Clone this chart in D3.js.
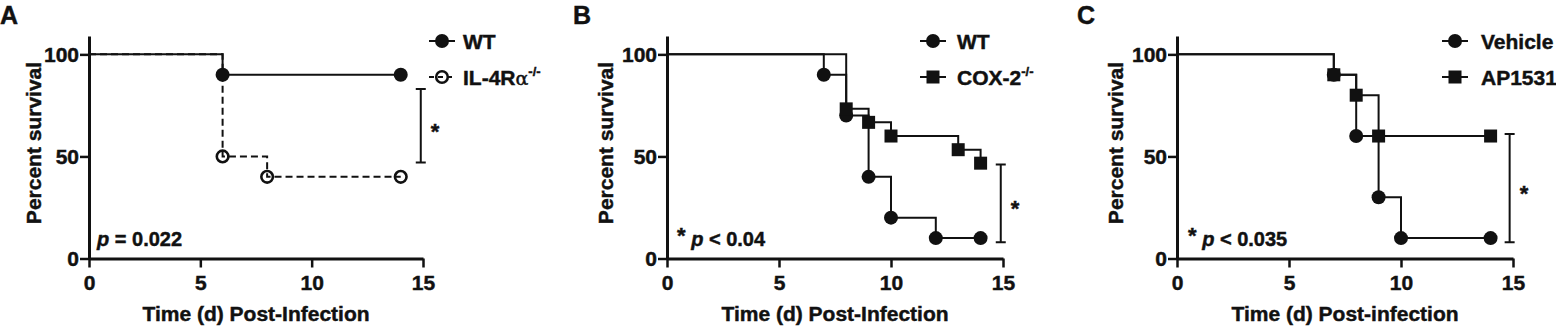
<!DOCTYPE html>
<html>
<head>
<meta charset="utf-8">
<script src="https://cdn.jsdelivr.net/npm/d3@7/dist/d3.min.js"></script>
<style>
  body { margin: 0; background: #fff; }
  svg text { font-family: "Liberation Sans", Arial, Helvetica, sans-serif; font-weight: bold; fill: #111; stroke: #111; stroke-width: 0.45px; }
</style>
</head>
<body>
<svg id="fig" width="1556" height="330"></svg>
<script>
// Data
const xTicks = [0, 5, 10, 15];
const yTicks = [0, 50, 100];
const panelLetters = ["A", "B", "C"];
const xTitles = ["Time (d) Post-Infection", "Time (d) Post-Infection", "Time (d) Post-infection"];
const yTitle = "Percent survival";

// A: WT vs IL-4Ra-/-
const aWtDays = [6, 14];
const aWtSurv = [90, 90];
const aIl4Days = [6, 8, 14];
const aIl4Surv = [50, 40, 40];
// B: WT vs COX-2-/-
const bWtDays = [7, 8, 9, 10, 12, 14];
const bWtSurv = [90, 70, 40, 20, 10, 10];
const bCoxDays = [8, 9, 10, 13, 14];
const bCoxSurv = [73.3, 66.7, 60, 53.3, 46.7];
// C: Vehicle vs AP1531
const cVehDays = [7, 8, 9, 10, 14];
const cVehSurv = [90, 60, 30, 10, 10];
const cApDays = [7, 8, 9, 14];
const cApSurv = [90, 80, 60, 60];

// significance bars (day, top %, bottom %) and p text
const sigDays = [14.9, 14.9, 14.85];
const sigTops = [83, 46, 61];
const sigBottoms = [47, 8, 8];
const pStars = ["", "* ", "* "];
const pRest = [" = 0.022", " < 0.04", " < 0.035"];

const panels = [
  { series: [
      { name: "WT", days: aWtDays, surv: aWtSurv, marker: "disc", dashed: false },
      { name: "IL-4R", greek: "α", sup: "-/-", days: aIl4Days, surv: aIl4Surv, marker: "ring", dashed: true }
    ] },
  { series: [
      { name: "WT", days: bWtDays, surv: bWtSurv, marker: "disc", dashed: false },
      { name: "COX-2", sup: "-/-", days: bCoxDays, surv: bCoxSurv, marker: "square", dashed: false }
    ] },
  { series: [
      { name: "Vehicle", days: cVehDays, surv: cVehSurv, marker: "disc", dashed: false },
      { name: "AP1531", days: cApDays, surv: cApSurv, marker: "square", dashed: false }
    ] }
];

// Layout
const layout = [
  { x0: 89,   x1: 423,  letterX: 0,    ytX: 41,   legX: 442,  legTextX: 463,  pX: 97 },
  { x0: 667,  x1: 1003, letterX: 573,  ytX: 613,  legX: 933,  legTextX: 957,  pX: 677 },
  { x0: 1177, x1: 1513, letterX: 1077, ytX: 1123, legX: 1455, legTextX: 1481, pX: 1188 }
];
const yBottom = 258.5, yTop = 36;
const legY = [41, 77];

const svg = d3.select("#fig");

panels.forEach((p, i) => {
  const L = layout[i];
  const g = svg.append("g");

  let xax = d3.scaleLinear().domain([0, 15]).range([L.x0, L.x1]);
  let yax = d3.scaleLinear().domain([0, 109]).range([yBottom, yTop]);

  // axes
  let xAxis = d3.axisBottom(xax).tickValues(xTicks).tickSize(9).tickSizeOuter(0).tickPadding(8);
  let gx = g.append("g").attr("transform", `translate(0, ${yBottom})`).call(xAxis);
  let yAxis = d3.axisLeft(yax).tickValues(yTicks).tickSize(9).tickSizeOuter(0).tickPadding(1);
  let gy = g.append("g").attr("transform", `translate(${L.x0}, 0)`).call(yAxis);
  [gx, gy].forEach(a => {
    a.select(".domain").attr("stroke", "#111").attr("stroke-width", 3);
    a.selectAll(".tick line").attr("stroke", "#111").attr("stroke-width", 2.5);
    a.selectAll(".tick text").attr("font-size", 21).attr("fill", "#111")
      .attr("font-family", "'Liberation Sans', Arial, sans-serif").attr("font-weight", "bold");
  });

  // titles
  g.append("text")
    .attr("x", (L.x0 + L.x1) / 2)
    .attr("y", 321)
    .attr("text-anchor", "middle")
    .attr("font-size", 21)
    .text(xTitles[i]);
  g.append("text")
    .attr("transform", `translate(${L.ytX}, 143) rotate(-90)`)
    .attr("text-anchor", "middle")
    .attr("font-size", 21)
    .text(yTitle);
  g.append("text")
    .attr("x", L.letterX)
    .attr("y", 24)
    .attr("font-size", 25)
    .text(panelLetters[i]);

  // survival curves (step after)
  let line = d3.line()
    .x(d => xax(d[0]))
    .y(d => yax(d[1]))
    .curve(d3.curveStepAfter);
  p.series.slice().reverse().forEach(s => {
    let pts = [[0, 100]].concat(s.days.map((d, k) => [d, s.surv[k]]));
    g.append("path")
      .attr("d", line(pts))
      .attr("fill", "none")
      .attr("stroke", "#111")
      .attr("stroke-width", 2)
      .attr("stroke-dasharray", s.dashed ? "7,4" : null);
  });

  // markers
  function drawMarker(sel, type) {
    if (type == "square") {
      sel.append("rect").attr("x", -6.5).attr("y", -6.5).attr("width", 13).attr("height", 13).attr("fill", "#111");
    } else if (type == "ring") {
      sel.append("circle").attr("r", 5.8).attr("fill", "none").attr("stroke", "#111").attr("stroke-width", 2.6);
    } else {
      sel.append("circle").attr("r", 7).attr("fill", "#111");
    }
  }
  p.series.forEach(s => {
    s.days.forEach((d, k) => {
      let m = g.append("g").attr("transform", `translate(${xax(d)}, ${yax(s.surv[k])})`);
      drawMarker(m, s.marker);
    });
  });

  // legend
  p.series.forEach((s, k) => {
    let y = legY[k];
    g.append("line")
      .attr("x1", L.legX - 13).attr("x2", L.legX + 13)
      .attr("y1", y).attr("y2", y)
      .attr("stroke", "#111").attr("stroke-width", 2)
      .attr("stroke-dasharray", s.dashed ? "5,4" : null);
    drawMarker(g.append("g").attr("transform", `translate(${L.legX}, ${y})`), s.marker);
    let t = g.append("text")
      .attr("x", L.legTextX)
      .attr("y", y + 7.5)
      .attr("font-size", 21)
      .text(s.name);
    if (s.greek) {
      t.append("tspan").attr("font-weight", "normal")
        .attr("font-family", "'DejaVu Serif', 'Liberation Serif', serif")
        .attr("font-size", 19).text(s.greek);
    }
    if (s.sup) {
      t.append("tspan").attr("font-size", 13).attr("dy", -9).text(s.sup);
    }
  });

  // significance bar
  let sx = xax(sigDays[i]);
  let y1 = yax(sigTops[i]), y2 = yax(sigBottoms[i]);
  g.append("path")
    .attr("d", `M${sx - 5},${y1}H${sx + 5}M${sx},${y1}V${y2}M${sx - 5},${y2}H${sx + 5}`)
    .attr("stroke", "#111").attr("stroke-width", 2).attr("fill", "none");
  g.append("text")
    .attr("x", sx + 10)
    .attr("y", (y1 + y2) / 2 + 13)
    .attr("font-size", 22)
    .text("*");

  // p value
  let pt = g.append("text")
    .attr("x", L.pX)
    .attr("y", 246)
    .attr("font-size", 20);
  if (pStars[i]) {
    pt.append("tspan").attr("font-size", 22).attr("dy", -3).text("*");
    pt.append("tspan").attr("dy", 3).text(" ");
  }
  pt.append("tspan").attr("font-style", "italic").text("p");
  pt.append("tspan").text(pRest[i]);
});
</script>
</body>
</html>
